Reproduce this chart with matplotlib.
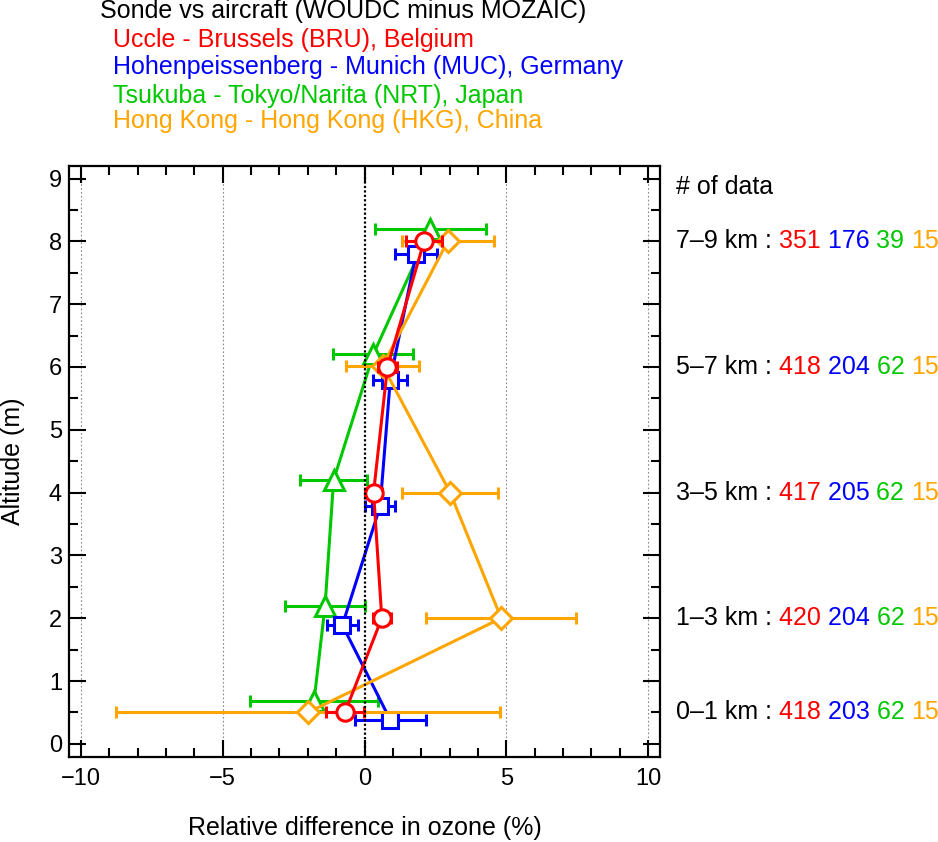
import matplotlib
matplotlib.use('Agg')
import matplotlib.pyplot as plt
from matplotlib.ticker import MultipleLocator
from matplotlib.transforms import blended_transform_factory

plt.rcParams['font.family'] = ['Liberation Sans', 'DejaVu Sans']

# ---------------- data ----------------
title = "Sonde vs aircraft (WOUDC minus MOZAIC)"
station_names = ["Uccle - Brussels (BRU), Belgium",
                 "Hohenpeissenberg - Munich (MUC), Germany",
                 "Tsukuba - Tokyo/Narita (NRT), Japan",
                 "Hong Kong - Hong Kong (HKG), China"]
station_colors = ['#ff0000', '#0000ff', '#00c800', '#ffa500']
station_markers = ['o', 's', '^', 'D']

uccle_alt = [0.5, 2.0, 4.0, 6.0, 8.0]
uccle_diff = [-0.69, 0.61, 0.32, 0.81, 2.10]
uccle_err = [0.66, 0.32, 0.31, 0.33, 0.63]

hohen_alt = [0.38, 1.89, 3.78, 5.8, 7.8]
hohen_diff = [0.91, -0.78, 0.55, 0.91, 1.82]
hohen_err = [1.25, 0.55, 0.53, 0.60, 0.74]

tsukuba_alt = [0.68, 2.2, 4.2, 6.2, 8.2]
tsukuba_diff = [-1.78, -1.39, -1.09, 0.31, 2.32]
tsukuba_err = [2.25, 1.40, 1.19, 1.41, 1.95]

hk_alt = [0.5, 2.0, 4.0, 6.02, 8.0]
hk_diff = [-1.99, 4.82, 3.02, 0.64, 2.93]
hk_err = [6.78, 2.64, 1.70, 1.29, 1.62]

layer_names = ['0\u20131 km', '1\u20133 km', '3\u20135 km', '5\u20137 km', '7\u20139 km']
layer_alt = [0.5, 2.0, 4.0, 6.0, 8.0]
counts_uccle = [418, 420, 417, 418, 351]
counts_hohen = [203, 204, 205, 204, 176]
counts_tsukuba = [62, 62, 62, 62, 39]
counts_hk = [15, 15, 15, 15, 15]

x_grid = [-10, -5, 5, 10]

# ---------------- figure ----------------
W, H = 938, 842
fig = plt.figure(figsize=(W / 100, H / 100), dpi=100)
ax = fig.add_axes([69 / W, 1 - 757 / H, 591 / W, 591 / H])

FS = 18
TFS = 17

for xv in x_grid:
    ax.axvline(xv, color='#888888', lw=0.8, ls=(0, (1.5, 2)), zorder=1)
ax.axvline(0, color='black', lw=1.6, ls=(0, (1, 1)), zorder=10)

series = [
    (tsukuba_diff, tsukuba_alt, tsukuba_err, 2, 15),
    (hohen_diff, hohen_alt, hohen_err, 1, 11.5),
    (hk_diff, hk_alt, hk_err, 3, 11.5),
    (uccle_diff, uccle_alt, uccle_err, 0, 12.5),
]
for z, (xs, ys, es, idx, ms) in enumerate(series):
    c = station_colors[idx]
    ax.errorbar(xs, ys, xerr=es, color=c, lw=2.2, elinewidth=2.2, capsize=4.5,
                capthick=2.2, marker=station_markers[idx], ms=ms,
                mfc='white', mec=c, mew=2.2, zorder=3 + z)

ax.set_xlim(-10.42, 10.42)
ax.set_ylim(-0.21, 9.2)
ax.xaxis.set_major_locator(MultipleLocator(5))
ax.xaxis.set_minor_locator(MultipleLocator(1))
ax.yaxis.set_major_locator(MultipleLocator(1))
ax.yaxis.set_minor_locator(MultipleLocator(0.5))
ax.tick_params(which='both', direction='in', top=True, right=True,
               width=1.5, labelsize=TFS)
ax.tick_params(which='major', length=12)
ax.tick_params(which='minor', length=6.5)
ax.tick_params(axis='x', which='major', pad=8)
ax.tick_params(axis='y', which='major', pad=5)
for sp in ax.spines.values():
    sp.set_linewidth(1.6)

ax.set_xlabel("Relative difference in ozone (%)", fontsize=FS)
ax.xaxis.label.set_va('center')
ax.xaxis.set_label_coords(0.5, -0.12)
ax.set_ylabel("Altitude (m)", fontsize=FS)
ax.yaxis.label.set_va('center')
ax.yaxis.set_label_coords(-0.095, 0.5)

# header texts
fig.text(100 / W, 1 - 11 / H, title, fontsize=FS, ha='left', va='center', color='black')
name_y = [40, 67, 96, 121]
for name, c, yy in zip(station_names, station_colors, name_y):
    fig.text(113 / W, 1 - yy / H, name, fontsize=FS, ha='left', va='center', color=c)

# right-hand counts
tr = blended_transform_factory(ax.transAxes, ax.transData)
ax.text(1.027, 8.87, "# of data", transform=tr, fontsize=FS, ha='left',
        va='center', clip_on=False)
for i, (lname, ya) in enumerate(zip(layer_names, layer_alt)):
    prev = ax.text(1.027, ya, lname + " : ", transform=tr, fontsize=FS,
                   ha='left', va='center', clip_on=False)
    vals = [counts_uccle[i], counts_hohen[i], counts_tsukuba[i], counts_hk[i]]
    for j, (v, c) in enumerate(zip(vals, station_colors)):
        s = str(v) + (" " if j < 3 else "")
        prev = ax.annotate(s, xy=(1, 0), xycoords=prev, fontsize=FS, color=c,
                           ha='left', va='bottom', annotation_clip=False)

fig.savefig('out.png', dpi=100)
